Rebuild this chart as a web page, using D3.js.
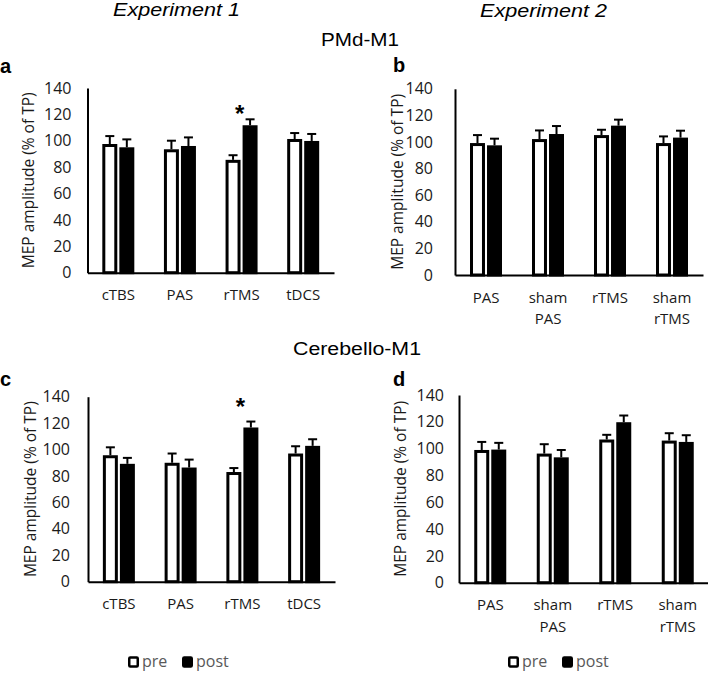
<!DOCTYPE html>
<html><head><meta charset="utf-8">
<script src="https://cdn.jsdelivr.net/npm/d3@7"></script>
<style>
body{margin:0;background:#fff;}
svg{display:block;}
</style></head>
<body>
<svg id="chart" width="708" height="673"></svg>
<script>
// ---------- data ----------
const catsExp1 = ["cTBS", "PAS", "rTMS", "tDCS"];
const catsExp2 = ["PAS", "sham PAS", "rTMS", "sham rTMS"];
const yTicks = [0, 20, 40, 60, 80, 100, 120, 140];
const seriesNames = ["pre", "post"];

const aPre = [97.5, 93.5, 85.5, 101.3];
const aPreErr = [6, 6.5, 3.5, 4.5];
const aPost = [95, 96, 111.7, 99.8];
const aPostErr = [6, 6.5, 4.5, 5.3];

const bPre = [99.2, 102.2, 105.2, 99.2];
const bPreErr = [6, 6.5, 4, 5];
const bPost = [97.5, 106, 112.3, 103.3];
const bPostErr = [5, 6, 4.5, 5.2];

const cPre = [95.7, 90, 83, 97];
const cPreErr = [6, 7, 3, 5.5];
const cPost = [89.2, 86.4, 116.7, 102.8];
const cPostErr = [4.5, 6, 4.5, 5];

const dPre = [99, 96.3, 106.8, 106];
const dPreErr = [6, 7, 3.5, 5.5];
const dPost = [99.3, 93.5, 119.7, 105];
const dPostErr = [5, 5.5, 5, 5];

const sigCats = { a: "rTMS", c: "rTMS" };   // significance asterisks
const sigLevel = { a: 124, c: 136 };

// ---------- layout ----------
const svg = d3.select("#chart");
const panels = [
  {id:"a", cats:catsExp1, pre:aPre, preErr:aPreErr, post:aPost, postErr:aPostErr, ox:87.5, x1:334, y0:272.7, yTop:87.9, pad:16, labX:28, legend:false},
  {id:"b", cats:catsExp2, pre:bPre, preErr:bPreErr, post:bPost, postErr:bPostErr, ox:455, x1:703, y0:275, yTop:88.8, pad:22, labX:397, legend:false},
  {id:"c", cats:catsExp1, pre:cPre, preErr:cPreErr, post:cPost, postErr:cPostErr, ox:88, x1:335, y0:581.7, yTop:396.7, pad:18, labX:30, legend:true, legX:128},
  {id:"d", cats:catsExp2, pre:dPre, preErr:dPreErr, post:dPost, postErr:dPostErr, ox:459, x1:709, y0:582.7, yTop:395, pad:15, labX:400, legend:true, legX:508}
];
const letterPos = {a:[0,72.5], b:[393,72], c:[0,386], d:[393,386]};
const tickFont = "'Open Sans', sans-serif";

panels.forEach(p => {
  const g = svg.append("g");
  const x = d3.scaleBand().domain(p.cats).range([p.ox, p.x1]);
  const xs = d3.scaleBand().domain(seriesNames).range([-16, 16]).paddingInner(0.12);
  const y = d3.scaleLinear().domain([0, 140]).range([p.y0, p.yTop]);

  const rows = p.cats.map((c, i) => ({cat:c, pre:p.pre[i], preErr:p.preErr[i], post:p.post[i], postErr:p.postErr[i]}));
  const sw = 3;
  seriesNames.forEach(s => {
    // error bars
    g.selectAll(null).data(rows).enter().append("line")
      .attr("x1", d => x(d.cat) + x.bandwidth()/2 + xs(s) + xs.bandwidth()/2)
      .attr("x2", d => x(d.cat) + x.bandwidth()/2 + xs(s) + xs.bandwidth()/2)
      .attr("y1", d => y(d[s]))
      .attr("y2", d => y(d[s] + d[s + "Err"]))
      .attr("stroke", "#000").attr("stroke-width", 2);
    g.selectAll(null).data(rows).enter().append("line")
      .attr("x1", d => x(d.cat) + x.bandwidth()/2 + xs(s) + xs.bandwidth()/2 - 4.5)
      .attr("x2", d => x(d.cat) + x.bandwidth()/2 + xs(s) + xs.bandwidth()/2 + 4.5)
      .attr("y1", d => y(d[s] + d[s + "Err"]))
      .attr("y2", d => y(d[s] + d[s + "Err"]))
      .attr("stroke", "#000").attr("stroke-width", 2);
    // bars
    g.selectAll(null).data(rows).enter().append("rect")
      .attr("x", d => x(d.cat) + x.bandwidth()/2 + xs(s) + sw/2)
      .attr("width", xs.bandwidth() - sw)
      .attr("y", d => y(d[s]) + sw/2)
      .attr("height", d => y(0) - y(d[s]) - sw/2)
      .attr("fill", s === "pre" ? "#fff" : "#000")
      .attr("stroke", "#000").attr("stroke-width", sw);
  });

  // axes
  const ya = g.append("g").attr("transform", `translate(${p.ox},0)`)
    .call(d3.axisLeft(y).tickValues(yTicks).tickSize(0).tickSizeOuter(0).tickPadding(p.pad));
  ya.select(".domain").attr("stroke", "#000").attr("stroke-width", 2);
  ya.selectAll("text").attr("font-family", tickFont).attr("font-size", 16).attr("fill", "#1a1a1a");

  const xa = g.append("g").attr("transform", `translate(0,${p.y0})`)
    .call(d3.axisBottom(x).tickSize(0).tickSizeOuter(0).tickPadding(17));
  xa.select(".domain").attr("stroke", "#000").attr("stroke-width", 2);
  xa.selectAll("text").attr("font-family", tickFont).attr("font-size", 15).attr("fill", "#1a1a1a")
    .each(function(d){
      const t = d3.select(this);
      const words = d.split(" ");
      t.text(null);
      words.forEach((w, i) => {
        t.append("tspan").attr("x", 0).attr("dy", i === 0 ? "0.71em" : "1.45em").text(w);
      });
      t.attr("dy", null);
    });

  // y label
  g.append("text")
    .attr("transform", `translate(${p.labX},${(p.y0 + p.yTop)/2}) rotate(-90)`)
    .attr("text-anchor", "middle").attr("dominant-baseline", "central")
    .attr("font-family", tickFont).attr("font-size", 15.5).attr("fill", "#1a1a1a")
    .text("MEP amplitude (% of TP)");

  // significance
  if (sigCats[p.id]) {
    g.append("text")
      .attr("x", x(sigCats[p.id]) + x.bandwidth()/2 - 2)
      .attr("y", y(sigLevel[p.id]) + 13)
      .attr("text-anchor", "middle")
      .attr("font-family", "'Liberation Sans', Arial, sans-serif")
      .attr("font-weight", "bold").attr("font-size", 24)
      .text("*");
  }

  // panel letter
  svg.append("text").attr("x", letterPos[p.id][0]).attr("y", letterPos[p.id][1])
    .attr("font-family", "'Liberation Sans', Arial, sans-serif").attr("font-weight", "bold")
    .attr("font-size", 20).text(p.id);

  // legend
  if (p.legend) {
    const lg = svg.append("g").attr("transform", `translate(${p.legX},667)`);
    const items = [{name:"pre", dx:0}, {name:"post", dx:54}];
    items.forEach(it => {
      lg.append("rect").attr("x", it.dx + 1.25).attr("y", -9.5).attr("width", 8.5).attr("height", 9)
        .attr("rx", 1)
        .attr("fill", it.name === "pre" ? "#fff" : "#000").attr("stroke", "#000").attr("stroke-width", 2.5);
      lg.append("text").attr("x", it.dx + 14).attr("y", 0)
        .attr("font-family", tickFont).attr("font-size", 16).attr("fill", "#595959")
        .text(it.name);
    });
  }
});

// titles
const titleFont = "'Liberation Sans', Arial, sans-serif";
svg.append("text").attr("x", 176.5).attr("y", 16).attr("text-anchor", "middle")
  .attr("font-family", titleFont).attr("font-style", "italic").attr("font-size", 17.5)
  .attr("textLength", 127).attr("lengthAdjust", "spacingAndGlyphs").text("Experiment 1");
svg.append("text").attr("x", 543.5).attr("y", 16.5).attr("text-anchor", "middle")
  .attr("font-family", titleFont).attr("font-style", "italic").attr("font-size", 17.5)
  .attr("textLength", 127).attr("lengthAdjust", "spacingAndGlyphs").text("Experiment 2");
svg.append("text").attr("x", 360).attr("y", 46).attr("text-anchor", "middle")
  .attr("font-family", titleFont).attr("font-size", 17.5)
  .attr("textLength", 78).attr("lengthAdjust", "spacingAndGlyphs").text("PMd-M1");
svg.append("text").attr("x", 357).attr("y", 355).attr("text-anchor", "middle")
  .attr("font-family", titleFont).attr("font-size", 17.5)
  .attr("textLength", 128).attr("lengthAdjust", "spacingAndGlyphs").text("Cerebello-M1");
</script>
</body></html>
